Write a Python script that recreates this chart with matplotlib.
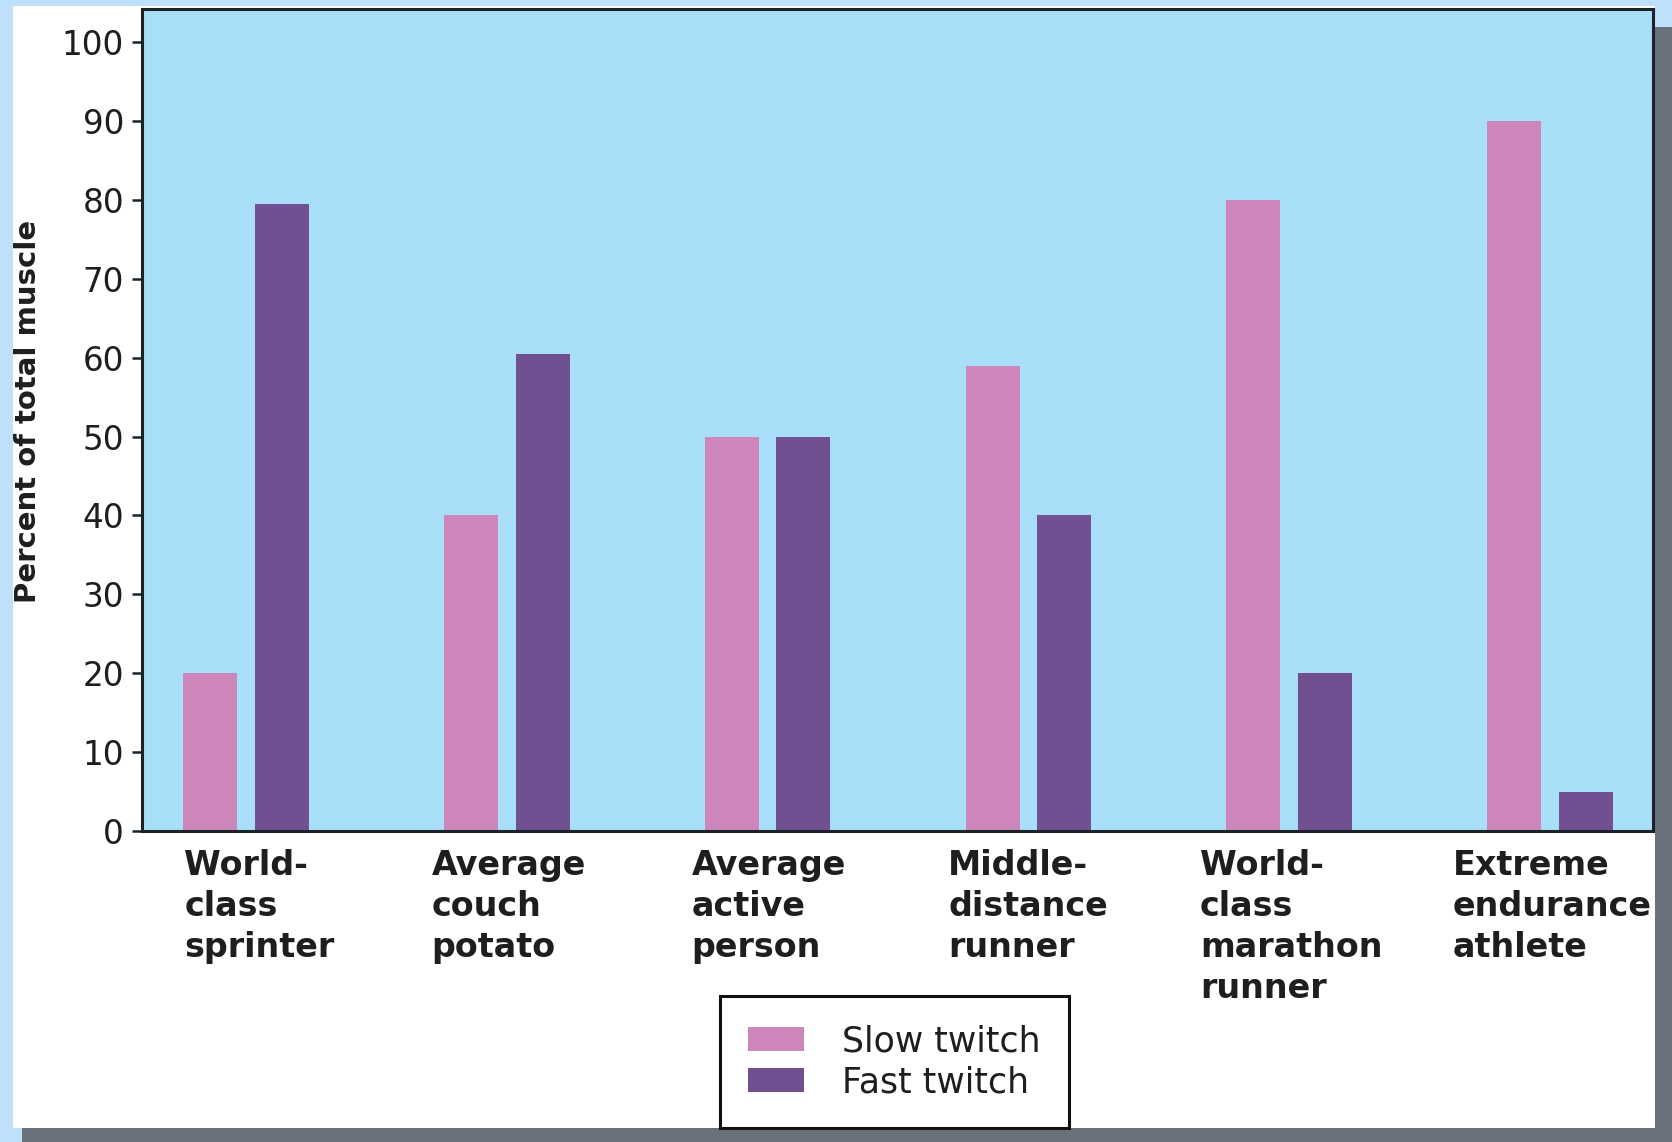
import matplotlib
matplotlib.use("Agg")
import matplotlib.pyplot as plt
from matplotlib.patches import Rectangle, Patch
import numpy as np

# Muscle fibre composition by type of person
categories = [
    "World-\nclass\nsprinter",
    "Average\ncouch\npotato",
    "Average\nactive\nperson",
    "Middle-\ndistance\nrunner",
    "World-\nclass\nmarathon\nrunner",
    "Extreme\nendurance\nathlete",
]
slow_twitch = [20, 40, 50, 59, 80, 90]
fast_twitch = [79.5, 60.5, 50, 40, 20, 5]
yticks = [0, 10, 20, 30, 40, 50, 60, 70, 80, 90, 100]
series_names = ["Slow twitch", "Fast twitch"]

# left edge of each category label, in bar-group units
label_left = [-0.237, 0.711, 1.708, 2.693, 3.658, 4.626]

W, H = 1672, 1142
DPI = 100
SLOW_COLOR = "#cd86ba"
FAST_COLOR = "#715091"
TEXT_COLOR = "#1e1e1e"
SPINE_COLOR = "#1c2328"

plt.rcParams["font.family"] = ["DejaVu Sans"]

fig = plt.figure(figsize=(W / DPI, H / DPI), dpi=DPI)
fig.patch.set_facecolor("#bee0fa")


def fig_rect(x0, y0, x1, y1, color, z):
    """Rectangle given in pixel coordinates measured from the top-left corner."""
    r = Rectangle((x0 / W, 1 - y1 / H), (x1 - x0) / W, (y1 - y0) / H,
                  transform=fig.transFigure, facecolor=color,
                  edgecolor="none", zorder=z)
    fig.patches.append(r)


# slide frame: grey drop shadow and white panel
fig_rect(1655, 27, W, H, "#69717a", -20)
fig_rect(22, 1128, W, H, "#69717a", -20)
fig_rect(13, 6, 1655, 1128, "white", -19)

ax = fig.add_axes([142 / W, 1 - 831 / H, (1653 - 142) / W, (831 - 9) / H])
ax.set_facecolor("#a9def9")

x = np.arange(len(categories))
width = 0.207
offset = 0.137
ax.bar(x - offset, slow_twitch, width, color=SLOW_COLOR, label=series_names[0], zorder=2)
ax.bar(x + offset, fast_twitch, width, color=FAST_COLOR, label=series_names[1], zorder=2)

ax.set_xlim(-0.399, 5.395)
ax.set_ylim(0, 104.2)
ax.set_yticks(yticks)
ax.set_yticklabels([str(t) for t in yticks])
ax.set_xticks([])

ax.tick_params(axis="y", direction="out", length=7, width=1.8,
               color=SPINE_COLOR, pad=6, labelsize=23.5, labelcolor=TEXT_COLOR)
for side in ["left", "right", "top", "bottom"]:
    ax.spines[side].set_color(SPINE_COLOR)
    ax.spines[side].set_linewidth(2.2)
    ax.spines[side].set_zorder(3)

ax.set_ylabel("Percent of total muscle", fontsize=21, fontweight="bold",
              color=TEXT_COLOR)
ax.yaxis.set_label_coords(-0.066, 0.51)

# category labels below the axis
for lx, label in zip(label_left, categories):
    ax.text(lx, -0.022, label,
            transform=ax.get_xaxis_transform(), ha="left", va="top",
            fontsize=24, fontweight="bold", color=TEXT_COLOR,
            linespacing=1.31)

handles = [Patch(facecolor=SLOW_COLOR), Patch(facecolor=FAST_COLOR)]
leg = fig.legend(handles, series_names, loc="upper left",
                 bbox_to_anchor=(720 / W, 1 - 996 / H),
                 fontsize=25, frameon=True, fancybox=False,
                 edgecolor="#111111", facecolor="white", framealpha=1,
                 handlelength=1.6, handleheight=0.7, handletextpad=1.1,
                 borderpad=0.82, labelspacing=0.2, borderaxespad=0)
leg.get_frame().set_linewidth(2.2)
for t in leg.get_texts():
    t.set_color(TEXT_COLOR)

fig.savefig("out.png", dpi=DPI, facecolor=fig.get_facecolor())
